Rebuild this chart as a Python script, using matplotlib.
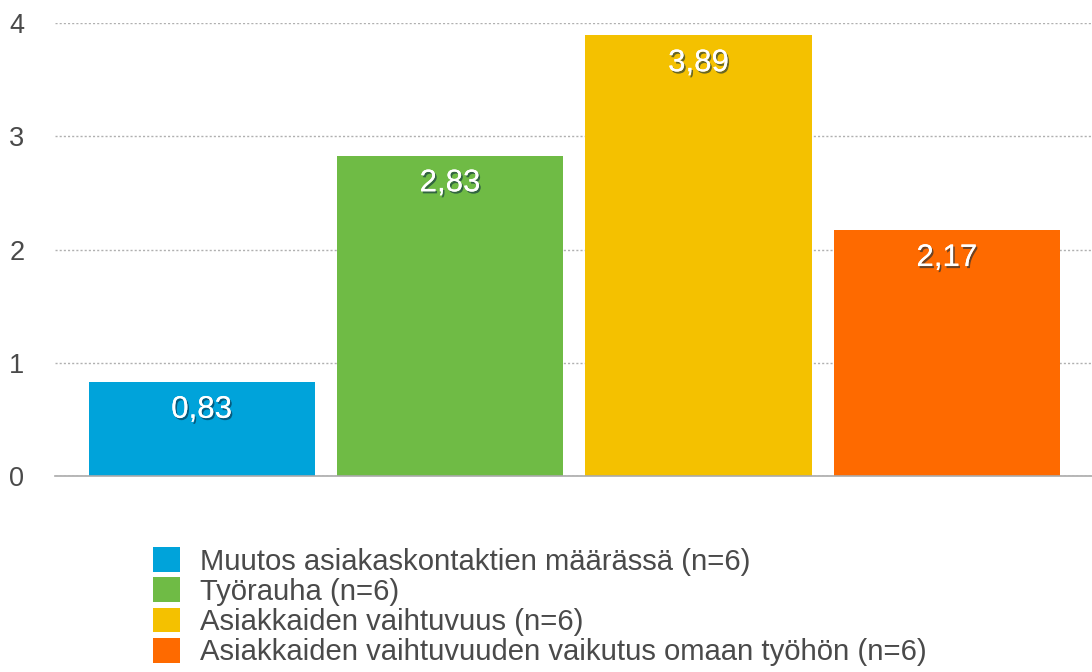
import matplotlib.pyplot as plt
import matplotlib.patheffects as pe
from matplotlib.patches import Patch

plt.rcParams['font.family'] = ['Liberation Sans', 'DejaVu Sans']

# Data
categories = ['Muutos asiakaskontaktien määrässä (n=6)',
              'Työrauha (n=6)',
              'Asiakkaiden vaihtuvuus (n=6)',
              'Asiakkaiden vaihtuvuuden vaikutus omaan työhön (n=6)']
values = [0.83, 2.83, 3.89, 2.17]
value_labels = ['0,83', '2,83', '3,89', '2,17']
colors = ['#00A3DA', '#6FBB45', '#F4C100', '#FE6A00']
yticks = [0, 1, 2, 3, 4]

fig = plt.figure(figsize=(10.92, 6.72), dpi=100)
ax = fig.add_axes([55 / 1092, 1 - 476 / 672, 1 - 55 / 1092, (476 - 23) / 672])

x = list(range(len(values)))
bars = ax.bar(x, values, width=0.91, color=colors, zorder=2)

ax.set_xlim(-0.59, 3.584)
ax.set_ylim(0, 4)
ax.set_yticks(yticks)
ax.set_yticklabels([str(t) for t in yticks], fontsize=19.5, color='#4a4a4a')
ax.set_xticks([])
ax.tick_params(axis='y', length=0, pad=22)

for s in ['top', 'right', 'left']:
    ax.spines[s].set_visible(False)
ax.spines['bottom'].set_color('#aaaaaa')
ax.spines['bottom'].set_linewidth(1.2)

ax.grid(axis='y', linestyle=(0, (1.5, 1.5)), color='#b0b0b0', linewidth=1, zorder=0)

shadow = [pe.withSimplePatchShadow(offset=(1.2, -1.5), shadow_rgbFace='#0a2a40', alpha=0.6),
          pe.Normal()]
for xi, v, lab in zip(x, values, value_labels):
    ax.annotate(lab, (xi, v), xytext=(0, -20), textcoords='offset points',
                ha='center', va='center', fontsize=22.5, color='white',
                path_effects=shadow, zorder=3)

handles = [Patch(facecolor=c, edgecolor='none') for c in colors]
fig.legend(handles, categories, loc='upper left',
           bbox_to_anchor=(153 / 1092, 1 - 547 / 672), frameon=False,
           fontsize=21.1, labelcolor='#4a4a4a', handlelength=0.93, handleheight=0.93,
           handletextpad=0.68, labelspacing=0.06, borderpad=0, borderaxespad=0)

fig.savefig('out.png', dpi=100)
